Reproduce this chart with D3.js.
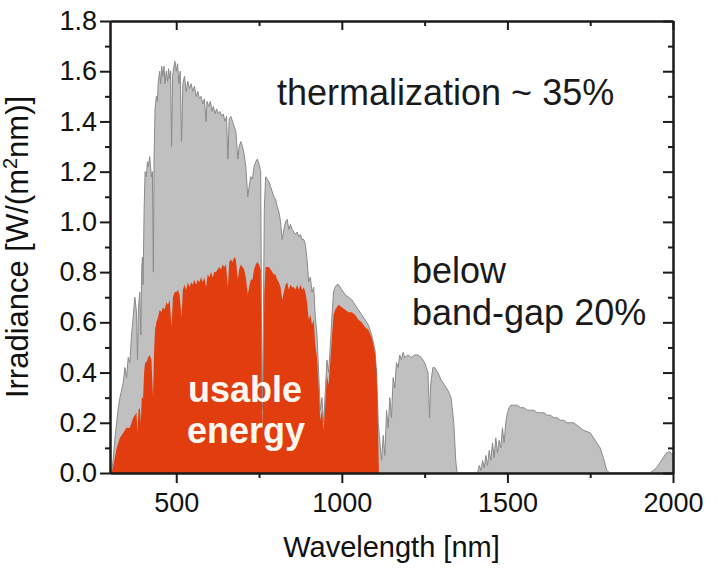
<!DOCTYPE html>
<html>
<head>
<meta charset="utf-8">
<script src="https://cdn.jsdelivr.net/npm/d3@7"></script>
<style>
  html, body { margin: 0; padding: 0; background: #ffffff; }
  svg { display: block; }
  text { font-family: "Liberation Sans", Arial, sans-serif; }
</style>
</head>
<body>
<svg id="chart" width="718" height="569"></svg>
<script>
// ---- data ----
const wavelength = [
  305,310,315,320,325,330,335,340,345,350,355,360,365,370,375,380,383,386,390,393,396,398,
  400,403,406,410,413,416,420,425,428,431,433,436,440,443,446,450,453,456,460,463,466,470,
  474,477,480,483,486,489,493,496,500,504,508,512,516,520,525,530,535,540,545,550,555,560,
  565,570,575,580,585,590,593,598,603,608,612,617,622,627,632,637,642,647,652,656,660,665,
  670,675,680,686,690,695,700,705,710,716,720,725,730,735,740,745,750,755,758,760,763,766,
  770,775,780,785,790,795,800,805,810,815,820,825,830,835,840,845,850,855,860,865,870,875,
  880,885,890,895,900,905,910,915,920,925,930,935,940,945,950,955,960,965,970,975,980,985,
  990,1000,1010,1020,1030,1040,1050,1060,1070,1080,1090,1100,1105,1110,1115,1120,1125,1130,
  1135,1140,1145,1150,1155,1160,1165,1170,1175,1180,1185,1190,1200,1210,1220,1230,1240,1250,
  1255,1260,1265,1268,1275,1280,1290,1300,1310,1320,1330,1338,1344,1348,1410,1415,1420,1425,
  1430,1435,1440,1445,1450,1455,1460,1465,1470,1475,1480,1485,1490,1495,1500,1505,1510,1520,
  1530,1540,1550,1560,1570,1580,1590,1600,1610,1620,1630,1640,1650,1660,1670,1680,1690,1700,
  1710,1720,1730,1740,1750,1760,1770,1780,1790,1800,1810,1930,1940,1950,1960,1970,1980,1990,2000
];
const irradiance = [
  0,0.06,0.14,0.2,0.26,0.3,0.33,0.36,0.42,0.38,0.46,0.44,0.55,0.62,0.7,0.64,0.45,0.66,0.72,0.55,0.82,0.86,
  0.75,1.05,1.2,1.18,1.24,1.22,1.26,1.18,1.2,0.8,1.25,1.45,1.5,1.48,1.56,1.6,1.55,1.62,1.58,1.62,1.55,1.6,
  1.56,1.61,1.57,1.6,1.3,1.58,1.62,1.64,1.6,1.63,1.55,1.6,1.32,1.55,1.58,1.52,1.56,1.53,1.55,1.52,1.54,1.5,
  1.52,1.49,1.5,1.47,1.49,1.4,1.48,1.46,1.48,1.44,1.46,1.43,1.45,1.43,1.44,1.42,1.43,1.4,1.42,1.25,1.41,1.42,
  1.4,1.38,1.36,1.25,1.3,1.32,1.3,1.27,1.22,1.1,1.14,1.18,1.17,1.22,1.24,1.25,1.23,1.2,0.5,0.25,0.6,1.05,
  1.18,1.17,1.16,1.14,1.12,1.1,1.09,1.06,1.04,1.0,0.93,0.97,1.0,1.01,0.97,0.99,0.97,0.96,0.95,0.96,0.94,0.95,
  0.93,0.93,0.91,0.85,0.76,0.78,0.72,0.74,0.62,0.55,0.4,0.25,0.3,0.2,0.32,0.45,0.4,0.5,0.62,0.72,0.74,0.75,
  0.75,0.73,0.71,0.7,0.69,0.67,0.65,0.63,0.61,0.59,0.55,0.49,0.4,0.2,0.12,0.05,0.15,0.07,
  0.25,0.18,0.3,0.22,0.38,0.34,0.44,0.42,0.47,0.45,0.48,0.46,0.47,0.46,0.47,0.47,0.46,0.44,
  0.42,0.4,0.22,0.35,0.42,0.42,0.4,0.37,0.35,0.33,0.3,0.2,0.05,0,0,0.03,0.01,0.05,
  0.02,0.07,0.03,0.09,0.05,0.12,0.06,0.14,0.08,0.13,0.1,0.18,0.12,0.2,0.24,0.26,0.27,0.27,
  0.27,0.26,0.26,0.25,0.25,0.25,0.24,0.24,0.24,0.23,0.23,0.22,0.22,0.21,0.21,0.2,0.2,0.2,
  0.19,0.18,0.17,0.165,0.16,0.14,0.12,0.1,0.06,0.01,0,0,0.01,0.02,0.04,0.06,0.08,0.085,0.07
];
const usableWavelength = [
  305,310,320,330,340,350,360,370,380,383,386,390,393,396,400,403,406,410,415,420,425,430,433,436,
  440,445,450,455,460,465,470,475,480,486,490,495,500,505,510,516,520,525,530,535,540,545,550,555,
  560,565,570,575,580,585,590,595,600,605,610,615,620,625,630,635,640,645,650,656,660,665,670,675,
  680,686,690,695,700,705,710,716,720,725,730,735,740,745,750,755,758,760,763,766,770,775,780,785,
  790,795,800,805,810,815,820,825,830,835,840,845,850,855,860,865,870,875,880,885,890,895,900,905,
  910,915,920,925,930,935,940,945,950,955,960,965,970,975,980,985,990,1000,1010,1020,1030,1040,1050,
  1060,1070,1080,1090,1100,1105,1108,1112
];
const usableIrradiance = [
  0,0.03,0.1,0.14,0.16,0.18,0.18,0.22,0.24,0.16,0.25,0.26,0.2,0.3,0.3,0.4,0.44,0.44,0.46,0.47,0.45,0.3,0.48,0.57,
  0.6,0.62,0.65,0.64,0.66,0.65,0.68,0.67,0.69,0.58,0.7,0.72,0.72,0.73,0.71,0.62,0.73,0.75,0.73,0.76,0.74,0.76,0.75,0.77,
  0.75,0.77,0.76,0.78,0.76,0.78,0.74,0.79,0.78,0.8,0.78,0.8,0.8,0.81,0.82,0.81,0.83,0.82,0.83,0.74,0.84,0.85,0.84,0.86,
  0.85,0.77,0.81,0.83,0.82,0.81,0.78,0.71,0.74,0.77,0.77,0.81,0.83,0.84,0.83,0.81,0.35,0.17,0.42,0.72,0.82,0.82,0.82,0.81,
  0.8,0.79,0.79,0.77,0.76,0.74,0.69,0.72,0.75,0.76,0.73,0.75,0.74,0.74,0.73,0.75,0.73,0.75,0.73,0.74,0.72,0.68,0.61,0.63,
  0.59,0.61,0.51,0.46,0.34,0.21,0.25,0.17,0.27,0.39,0.35,0.44,0.54,0.63,0.65,0.66,0.67,0.66,0.65,0.64,0.64,0.63,0.61,
  0.6,0.58,0.57,0.54,0.48,0.4,0.25,0
];
const xTickValues = [500, 1000, 1500, 2000];
const xMinorTicks = [750, 1250, 1750];
const yTickValues = [0, 0.2, 0.4, 0.6, 0.8, 1.0, 1.2, 1.4, 1.6, 1.8];
const yMinorTicks = [0.1, 0.3, 0.5, 0.7, 0.9, 1.1, 1.3, 1.5, 1.7];
const xTitle = "Wavelength [nm]";
const annotations = ["thermalization ~ 35%", "below", "band-gap 20%"];
const usableLabel = ["usable", "energy"];

// ---- layout ----
const svg = d3.select("#chart");
const m = { left: 110, top: 21, right: 45, bottom: 96 };
const W = 718 - m.left - m.right;
const H = 569 - m.top - m.bottom;
const g = svg.append("g").attr("transform", `translate(${m.left},${m.top})`);

const x = d3.scaleLinear().domain([300, 2000]).range([0, W]);
const y = d3.scaleLinear().domain([0, 1.8]).range([H, 0]);

const spectrum = wavelength.map((w, i) => ({ w, v: irradiance[i] }));
const usable = usableWavelength.map((w, i) => ({ w, v: usableIrradiance[i] }));

const area = d3.area().x(d => x(d.w)).y0(y(0)).y1(d => y(d.v));
const line = d3.line().x(d => x(d.w)).y(d => y(d.v));

g.append("path").datum(spectrum).attr("d", area).attr("fill", "#c0c0c0");
g.append("path").datum(spectrum).attr("d", line)
  .attr("fill", "none").attr("stroke", "#8a8a8a").attr("stroke-width", 1);
g.append("path").datum(usable).attr("d", area).attr("fill", "#e23d0f");

// ---- axes ----
const axisColor = "#1a1a1a";
function styleAxis(sel, fontSize) {
  sel.selectAll("path.domain").attr("stroke", axisColor).attr("stroke-width", 2);
  sel.selectAll(".tick line").attr("stroke", axisColor).attr("stroke-width", 2);
  sel.selectAll(".tick text").attr("fill", "#111").attr("font-size", fontSize)
    .attr("font-family", "Liberation Sans, Arial, sans-serif");
}

const xb = g.append("g").attr("transform", `translate(0,${H})`)
  .call(d3.axisBottom(x).tickValues(xTickValues).tickSize(10).tickSizeOuter(0).tickPadding(10).tickFormat(d3.format("d")));
styleAxis(xb, 27);
const xbm = g.append("g").attr("transform", `translate(0,${H})`)
  .call(d3.axisBottom(x).tickValues(xMinorTicks).tickSize(5).tickSizeOuter(0).tickFormat(""));
styleAxis(xbm, 0);

const xt = g.append("g")
  .call(d3.axisTop(x).tickValues(xTickValues).tickSize(-9).tickSizeOuter(0).tickFormat(""));
styleAxis(xt, 0);
const xtm = g.append("g")
  .call(d3.axisTop(x).tickValues(xMinorTicks).tickSize(-5).tickSizeOuter(0).tickFormat(""));
styleAxis(xtm, 0);

const yl = g.append("g")
  .call(d3.axisLeft(y).tickValues(yTickValues).tickSize(10).tickSizeOuter(0).tickPadding(3).tickFormat(d3.format(".1f")));
styleAxis(yl, 27);
const ylm = g.append("g")
  .call(d3.axisLeft(y).tickValues(yMinorTicks).tickSize(5).tickSizeOuter(0).tickFormat(""));
styleAxis(ylm, 0);

const yr = g.append("g").attr("transform", `translate(${W},0)`)
  .call(d3.axisRight(y).tickValues(yTickValues).tickSize(-10).tickSizeOuter(0).tickFormat(""));
styleAxis(yr, 0);
const yrm = g.append("g").attr("transform", `translate(${W},0)`)
  .call(d3.axisRight(y).tickValues(yMinorTicks).tickSize(-5).tickSizeOuter(0).tickFormat(""));
styleAxis(yrm, 0);

// ---- titles ----
svg.append("text")
  .attr("x", m.left + W / 2).attr("y", 557)
  .attr("text-anchor", "middle").attr("font-size", 29).attr("fill", "#111")
  .text(xTitle);

const yt = svg.append("text")
  .attr("transform", `translate(28,${m.top + H / 2}) rotate(-90)`)
  .attr("text-anchor", "middle").attr("font-size", 31).attr("fill", "#111");
yt.append("tspan").text("Irradiance [W/(m");
yt.append("tspan").attr("font-size", 20).attr("dy", -11).text("2");
yt.append("tspan").attr("dy", 11).text("nm)]");

// ---- annotations ----
svg.append("text").attr("x", 277).attr("y", 105)
  .attr("font-size", 36).attr("fill", "#1a1a1a").text(annotations[0]);
svg.append("text").attr("x", 412).attr("y", 283)
  .attr("font-size", 36).attr("fill", "#1a1a1a").text(annotations[1]);
svg.append("text").attr("x", 412).attr("y", 325)
  .attr("font-size", 36).attr("fill", "#1a1a1a").text(annotations[2]);

svg.append("text").attr("x", 245).attr("y", 402)
  .attr("text-anchor", "middle").attr("font-size", 36).attr("font-weight", "bold")
  .attr("fill", "#fff8f0").text(usableLabel[0]);
svg.append("text").attr("x", 246).attr("y", 443)
  .attr("text-anchor", "middle").attr("font-size", 36).attr("font-weight", "bold")
  .attr("fill", "#fff8f0").text(usableLabel[1]);
</script>
</body>
</html>
